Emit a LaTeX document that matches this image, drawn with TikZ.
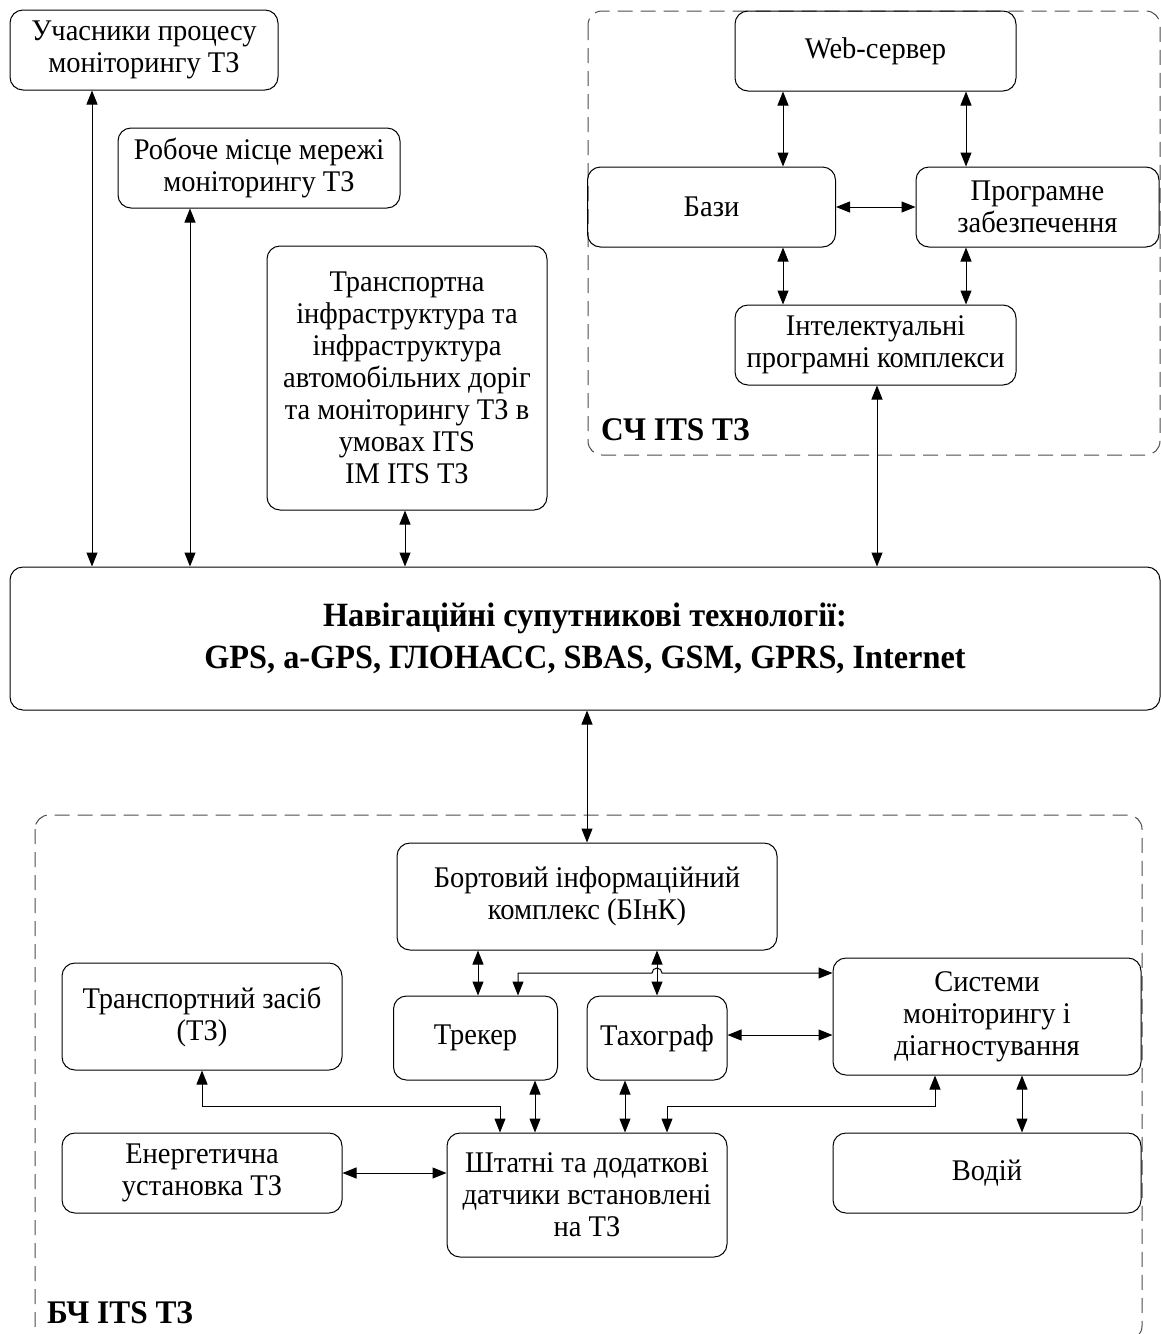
\documentclass[tikz,border=0pt]{standalone}
\usepackage{fontspec}
\setmainfont{Liberation Serif}[FakeStretch=0.95]
\usetikzlibrary{arrows.meta}

\tikzset{
  blk/.style={draw, rounded corners=6.5pt, align=center, inner sep=2pt,
    font=\fontsize{15}{16}\selectfont},
  grp/.style={draw=black!70, dash pattern=on 7.5pt off 4pt, rounded corners=7pt},
  biarr/.style={{Triangle[length=7pt,width=5.5pt]}-{Triangle[length=7pt,width=5.5pt]}},
  ttl/.style={font=\fontsize{16.5}{21}\selectfont\bfseries}
}

\begin{document}
\begin{tikzpicture}[x=0.5pt, y=-0.5pt, line width=0.5pt]
\useasboundingbox (0,0) rectangle (1161,1334);
\clip (0,0) rectangle (1161,1334);

\node[blk, minimum width=134pt, minimum height=40pt] (uch) at (144,50) {Учасники процесу\\моніторингу ТЗ};
\node[blk, minimum width=141pt, minimum height=40pt] (rob) at (259,168) {Робоче місце мережі\\моніторингу ТЗ};
\node[blk, minimum width=140pt, minimum height=132pt] (infr) at (407,378) {Транспортна\\інфраструктура та\\інфраструктура\\автомобільних доріг\\та моніторингу ТЗ в\\умовах ITS\\IM ITS ТЗ};
\node[blk, minimum width=575pt, minimum height=71.5pt, font=\fontsize{17}{21}\selectfont\bfseries] (nav) at (585,638.5) {Навігаційні супутникові технології:\\GPS, a-GPS, ГЛОНАСС, SBAS, GSM, GPRS, Internet};

\draw[grp] (588,11) rectangle (1160,455);
\node[ttl, anchor=base west] (schlbl) at (594,440) {СЧ ITS ТЗ};
\node[blk, minimum width=140.5pt, minimum height=40pt] (web) at (875.5,51) {Web-сервер};
\node[blk, minimum width=124pt, minimum height=40pt] (baz) at (711.5,207) {Бази};
\node[blk, minimum width=121.5pt, minimum height=40pt] (prog) at (1037.5,207) {Програмне\\забезпечення};
\node[blk, minimum width=140.5pt, minimum height=40pt] (intel) at (875.5,345) {Інтелектуальні\\програмні комплекси};

\draw[grp] (35,815) rectangle (1142,1340);
\node[ttl, anchor=base west] (bchlbl) at (40,1323) {БЧ ITS ТЗ};
\node[blk, minimum width=190pt, minimum height=53.5pt] (bink) at (587,896.5) {Бортовий інформаційний\\комплекс (БІнК)};
\node[blk, minimum width=82pt, minimum height=42pt] (trek) at (475.5,1038) {Трекер};
\node[blk, minimum width=70pt, minimum height=42pt] (tach) at (657,1038) {Тахограф};
\node[blk, minimum width=140pt, minimum height=53.5pt] (tz) at (202,1016.5) {Транспортний засіб\\(ТЗ)};
\node[blk, minimum width=154pt, minimum height=58.5pt] (sys) at (987,1016.5) {Системи\\моніторингу і\\діагностування};
\node[blk, minimum width=140pt, minimum height=40pt] (energ) at (202,1173) {Енергетична\\установка ТЗ};
\node[blk, minimum width=140pt, minimum height=62pt] (sht) at (587,1195) {Штатні та додаткові\\датчики встановлені\\на ТЗ};
\node[blk, minimum width=154pt, minimum height=40pt] (vod) at (987,1173) {Водій};

\coordinate (cu) at (92,0);
\coordinate (cr) at (190,0);
\coordinate (ci) at (405,0);
\coordinate (cn) at (877,0);
\coordinate (cb) at (587,0);
\coordinate (cl) at (783,0);
\coordinate (cp) at (966,0);
\coordinate (ct) at (478,0);
\coordinate (cg) at (657,0);
\coordinate (hx) at (518,0);
\coordinate (hop) at (652,973);
\coordinate (ys) at (0,1035);
\coordinate (cv) at (1022,0);
\coordinate (cs) at (935,0);
\coordinate (ck) at (535,0);
\coordinate (cf) at (625,0);
\coordinate (j1) at (500,1106);
\coordinate (j2) at (667,1106);

\draw[biarr] (uch.south -| cu) -- (nav.north -| cu);
\draw[biarr] (rob.south -| cr) -- (nav.north -| cr);
\draw[biarr] (infr.south -| ci) -- (nav.north -| ci);
\draw[biarr] (intel.south -| cn) -- (nav.north -| cn);
\draw[biarr] (web.south -| cl) -- (baz.north -| cl);
\draw[biarr] (web.south -| cp) -- (prog.north -| cp);
\draw[biarr] (baz.east) -- (prog.west);
\draw[biarr] (baz.south -| cl) -- (intel.north -| cl);
\draw[biarr] (prog.south -| cp) -- (intel.north -| cp);

\draw[biarr] (nav.south -| cb) -- (bink.north -| cb);
\draw[biarr] (bink.south -| ct) -- (trek.north -| ct);
\draw[biarr] (bink.south -| cg) -- (tach.north -| cg);
\draw[biarr] (hx |- trek.north) |- (hop) arc[start angle=180, end angle=0, radius=2.5pt] -- (sys.west |- hop);
\draw[biarr] (tach.east |- ys) -- (sys.west |- ys);
\draw[biarr] (sys.south -| cv) -- (vod.north -| cv);
\draw[biarr] (tz.south) |- (j1) -- (j1 |- sht.north);
\draw[biarr] (trek.south -| ck) -- (sht.north -| ck);
\draw[biarr] (tach.south -| cf) -- (sht.north -| cf);
\draw[biarr] (sys.south -| cs) |- (j2) -- (j2 |- sht.north);
\draw[biarr] (energ.east) -- (sht.west |- energ.east);
\end{tikzpicture}
\end{document}
